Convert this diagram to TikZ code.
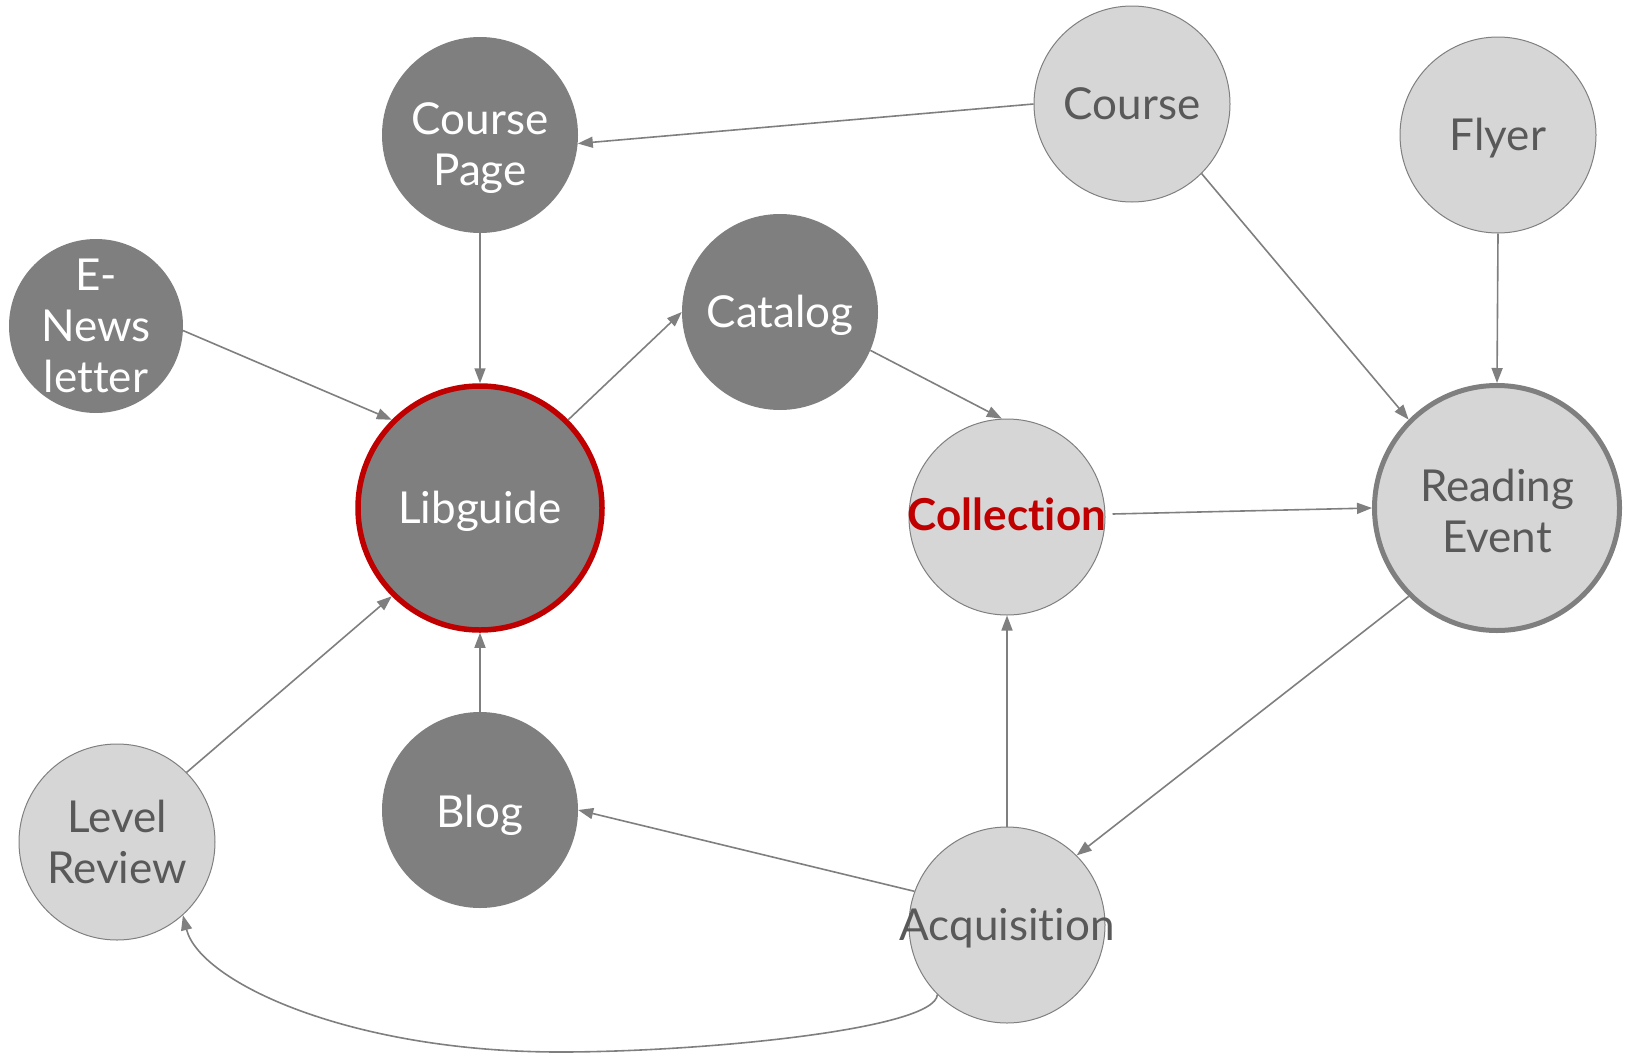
\documentclass[tikz,border=0pt]{standalone}
\usepackage{fontspec}
\setmainfont{Lato}[Ligatures={NoCommon}]
\usetikzlibrary{arrows.meta,calc}
\definecolor{dk}{HTML}{7F7F7F}
\definecolor{lt}{HTML}{D6D6D6}
\definecolor{tx}{HTML}{595959}
\definecolor{rd}{HTML}{C00000}
\tikzset{
  every node/.style={font=\fontsize{44}{51}\selectfont, align=center, inner sep=0pt},
  dark/.style={circle, fill=dk, minimum size=196pt},
  light/.style={circle, fill=lt, draw=dk, line width=1pt, minimum size=196pt},
  wlbl/.style={text=white},
  glbl/.style={text=tx},
  conn/.style={draw=dk, line width=1.6pt, -{Triangle[length=15pt,width=11pt]}}
}
\begin{document}
\begin{tikzpicture}[x=1pt,y=-1pt]
\useasboundingbox (0,0) rectangle (1633,1055);
\node[dark, label={[wlbl,yshift=-13pt]center:{Course\\Page}}] (cp) at (480,135) {};
\node[light, label={[glbl]center:{Course}}] (course) at (1132,104) {};
\node[light, label={[glbl,yshift=-3pt]center:{Flyer}}] (flyer) at (1498,135) {};
\node[dark, minimum size=174pt, label={[wlbl]center:{E-\\News\\letter}}] (enews) at (96,326) {};
\node[dark, label={[wlbl,yshift=-3pt]center:{Catalog}}] (cat) at (780,312) {};
\node[dark, draw=rd, line width=5.5pt, minimum size=244pt, label={[wlbl,yshift=-3pt]center:{Libguide}}] (lib) at (480,508) {};
\node[light, label={[text=rd,yshift=3pt]center:{\bfseries Collection}}] (coll) at (1007,517) {};
\node[light, line width=5pt, minimum size=245pt, label={[glbl,yshift=-3pt]center:{Reading\\Event}}] (read) at (1497,508) {};
\node[light, label={[glbl]center:{Level\\Review}}] (lr) at (117,842) {};
\node[dark, label={[wlbl,yshift=-5pt]center:{Blog}}] (blog) at (480,810) {};
\node[light, label={[glbl,yshift=-3pt]center:{Acquisition}}] (acq) at (1007,925) {};
\coordinate (collout) at ($(coll.east)+(7,-3)$);

\draw[conn] (course.west) -- (cp.-5);
\draw[conn] (course.-45) -- (read.135);
\draw[conn] (flyer.south) -- (read.north);
\draw[conn] (cp.south) -- (lib.north);
\draw[conn] (enews.-3) -- (lib.135);
\draw[conn] (lib.45) -- (cat.west);
\draw[conn] (cat.-23) -- (coll.93);
\draw[conn] (collout) -- (read.west);
\draw[conn] (read.225) -- (acq.45);
\draw[conn] (acq.north) -- (coll.south);
\draw[conn] (acq.160) -- (blog.east);
\draw[conn] (blog.north) -- (lib.south);
\draw[conn] (lr.45) -- (lib.225);
\draw[conn] (acq.225) .. controls +(-2,35) and +(140,0) .. (560,1052) .. controls +(-210,0) and +(17,67) .. (lr.-48);
\end{tikzpicture}
\end{document}
